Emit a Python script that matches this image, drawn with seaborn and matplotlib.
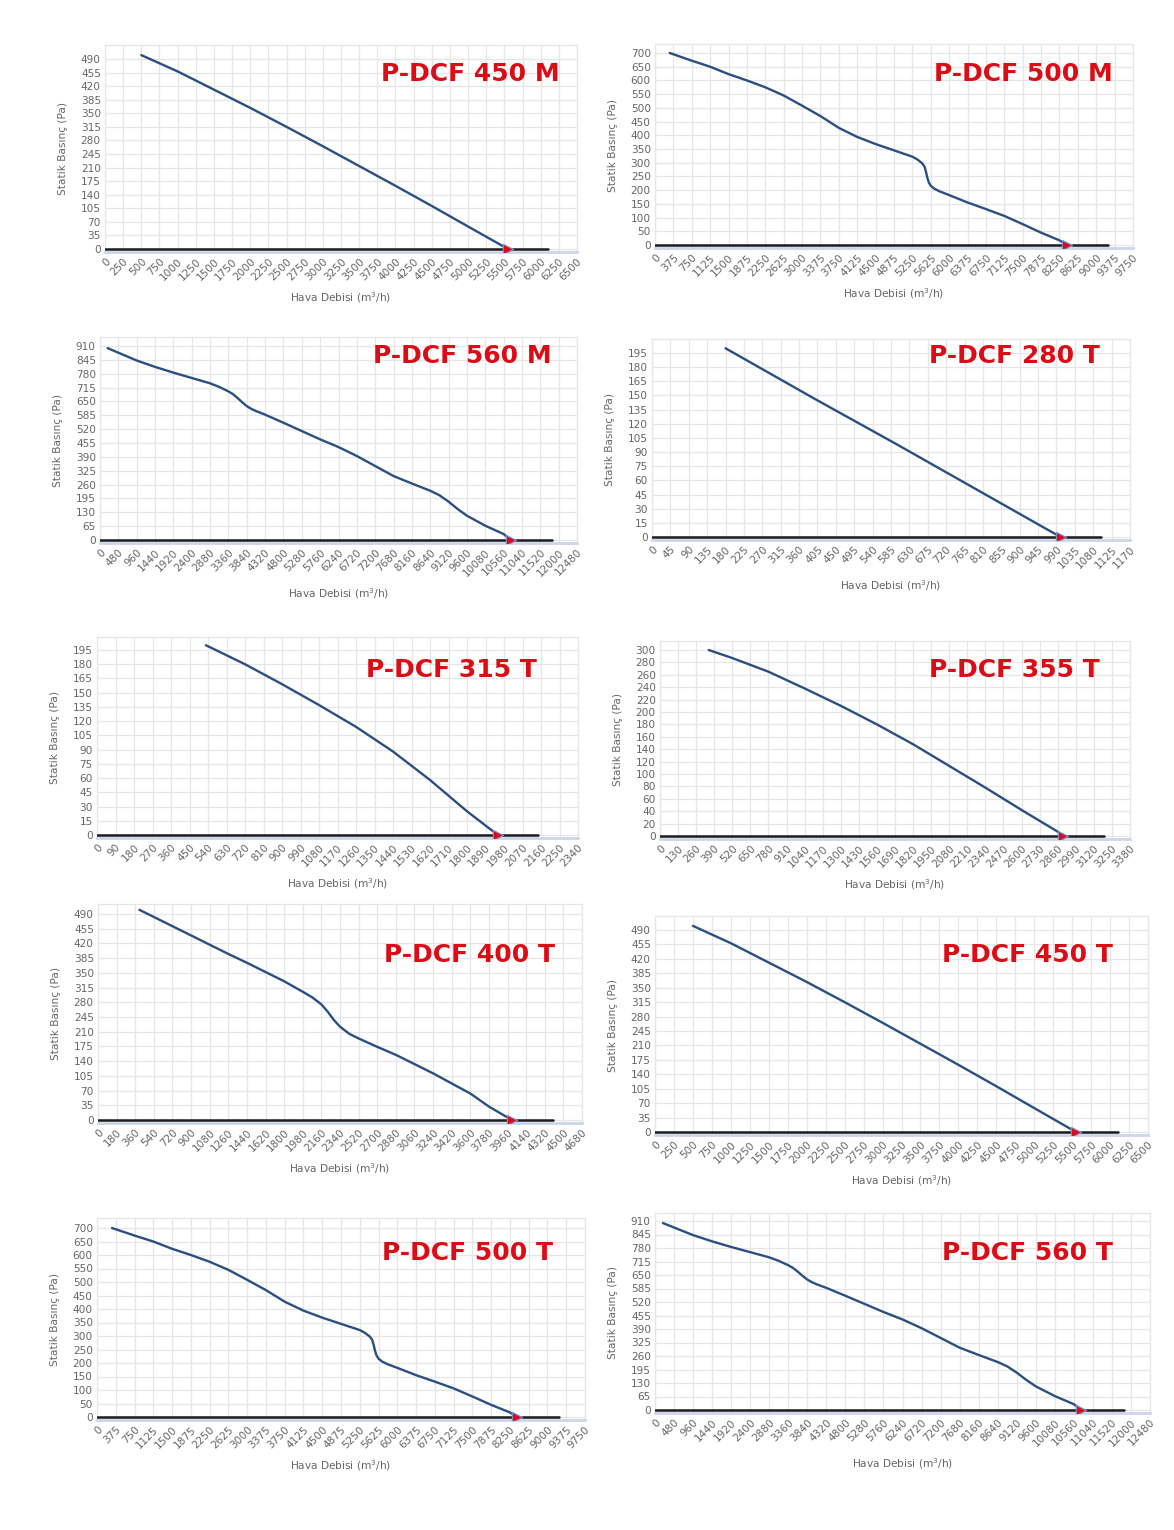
import numpy as np
import matplotlib.pyplot as plt
import seaborn as sns

# ===============================================
# Fan curves
# flow in m3/h, static pressure in Pa
# ===============================================
flow_450 = [500, 1000, 1500, 2000, 2500, 3000, 3500, 4000, 4500, 5000, 5550]
pres_450 = [500, 458, 411, 364, 315, 265, 214, 163, 111, 58, 0]

flow_500 = [300, 750, 1125, 1500, 1875, 2250, 2625, 3000, 3375, 3750, 4125,
            4500, 4875, 5250, 5350, 5450, 5500, 5530, 5555, 5585, 5625, 5700,
            5800, 6000, 6375, 6750, 7125, 7500, 7875, 8250, 8400]
pres_500 = [700, 672, 650, 623, 600, 575, 545, 508, 470, 427, 394,
            368, 345, 322, 312, 298, 285, 265, 245, 228, 216, 205,
            196, 182, 155, 131, 106, 76, 45, 17, 0]

flow_560 = [200, 960, 1440, 1920, 2400, 2880, 3120, 3360, 3480, 3600, 3720,
            3840, 3960, 4080, 4320, 4800, 5280, 5760, 6240, 6720, 7200, 7680,
            8160, 8640, 8880, 9120, 9360, 9600, 10080, 10560, 10750]
pres_560 = [900, 842, 812, 785, 760, 735, 718, 697, 684, 666, 646,
            628, 615, 605, 588, 550, 511, 472, 436, 394, 347, 300,
            265, 231, 210, 180, 145, 114, 67, 28, 0]

flow_280 = [180, 400, 600, 800, 1000]
pres_280 = [200, 146, 98, 49, 0]

flow_315 = [530, 720, 900, 1080, 1260, 1440, 1620, 1800, 1950]
pres_315 = [200, 180, 159, 137, 114, 88, 58, 25, 0]

flow_355 = [350, 520, 780, 1040, 1300, 1560, 1820, 2080, 2340, 2600, 2860, 2900]
pres_355 = [300, 287, 265, 238, 210, 180, 148, 113, 78, 42, 7, 0]

flow_400 = [400, 720, 900, 1080, 1260, 1440, 1620, 1800, 1980, 2070, 2160,
            2220, 2280, 2340, 2430, 2520, 2700, 2880, 3060, 3240, 3420, 3600,
            3780, 3960, 4000]
pres_400 = [500, 461, 439, 417, 395, 374, 352, 330, 305, 292, 275,
            258, 238, 222, 205, 194, 174, 155, 133, 111, 87, 63,
            32, 6, 0]

titles = ["P-DCF 450 M", "P-DCF 500 M", "P-DCF 560 M", "P-DCF 280 T",
          "P-DCF 315 T", "P-DCF 355 T", "P-DCF 400 T", "P-DCF 450 T",
          "P-DCF 500 T", "P-DCF 560 T"]
flows = [flow_450, flow_500, flow_560, flow_280, flow_315,
         flow_355, flow_400, flow_450, flow_500, flow_560]
pressures = [pres_450, pres_500, pres_560, pres_280, pres_315,
             pres_355, pres_400, pres_450, pres_500, pres_560]
x_steps = [250, 375, 480, 45, 90, 130, 180, 250, 375, 480]
y_steps = [35, 50, 65, 15, 15, 20, 35, 35, 50, 65]
y_last_ticks = [490, 700, 910, 195, 195, 300, 490, 490, 700, 910]
y_tops = [525, 733, 952, 210, 209, 315, 514, 524, 737, 950]

# ===============================================
# Layout (pixels on a 1174 x 1530 canvas)
# x at flow 0, x at last tick, y at 0 Pa, y at last y tick,
# title right edge, title centre y
# ===============================================
W, H = 1174, 1530
layout = [
    (105, 577, 249, 59, 560, 74),
    (655, 1133, 245, 53, 1113, 74),
    (100, 577, 540, 346, 552, 356),
    (652, 1130, 537, 353, 1100, 356),
    (97, 578, 835, 650, 537, 670),
    (660, 1130, 836, 650, 1100, 670),
    (98, 582, 1120, 914, 555, 955),
    (655, 1148, 1132, 930, 1113, 955),
    (97, 585, 1417, 1228, 553, 1253),
    (655, 1150, 1410, 1221, 1113, 1253),
]

sns.set_theme(style="white")
plt.rcParams["font.family"] = ["DejaVu Sans"]

GRID = "#e6e6e6"
AXIS = "#ccd6eb"
LABEL = "#666666"
CURVE = "#2b4f81"
RED = "#dc0c17"

fig = plt.figure(figsize=(W / 100, H / 100), dpi=100)

for i in range(len(titles)):
    x0, x1, y0, yt, tx, ty = layout[i]
    s = (y0 - yt) / y_last_ticks[i]          # px per Pa
    top = y0 - y_tops[i] * s
    bot = y0 + 3
    ymin = -3 / s
    ax = fig.add_axes([x0 / W, 1 - bot / H, (x1 - x0) / W, (bot - top) / H])

    xmax = x_steps[i] * 26
    flow = flows[i]
    pres = pressures[i]

    # black zero line, runs past the end of the curve
    sns.lineplot(x=[0, flow[-1] * 1.1], y=[0, 0], ax=ax, color="#1a1a1a",
                 lw=1.8, zorder=3)
    sns.lineplot(x=flow, y=pres, ax=ax, color=CURVE, lw=1.7, zorder=4)
    sns.scatterplot(x=[flow[-1]], y=[pres[-1]], ax=ax, marker=">", s=55,
                    color=RED, edgecolor="#7a96d8", linewidth=0.8, zorder=5)

    ax.set_xlim(0, xmax)
    ax.set_ylim(ymin, y_tops[i])
    ax.set_xticks(np.arange(0, xmax + 1, x_steps[i]))
    ax.set_yticks(np.arange(0, y_last_ticks[i] + 1, y_steps[i]))
    ax.tick_params(axis="both", length=0, labelsize=7.6, labelcolor=LABEL, pad=3)
    plt.setp(ax.get_xticklabels(), rotation=45, ha="right", rotation_mode="anchor")

    ax.grid(True, color=GRID, lw=0.9)
    ax.set_axisbelow(True)
    for side in ["left", "top", "right"]:
        ax.spines[side].set_color(GRID)
        ax.spines[side].set_linewidth(0.9)
    ax.spines["bottom"].set_color(AXIS)
    ax.spines["bottom"].set_linewidth(2)

    ax.set_xlabel("Hava Debisi (m$^3$/h)", fontsize=7.6, color=LABEL, labelpad=6)
    ax.set_ylabel("Statik Basınç (Pa)", fontsize=7.6, color=LABEL, labelpad=9)

    fig.text(tx / W, 1 - ty / H, titles[i], ha="right", va="center",
             fontsize=18, fontweight="bold", color=RED,
             family=["DejaVu Sans"])

fig.savefig("out.png", dpi=100, facecolor="white")
